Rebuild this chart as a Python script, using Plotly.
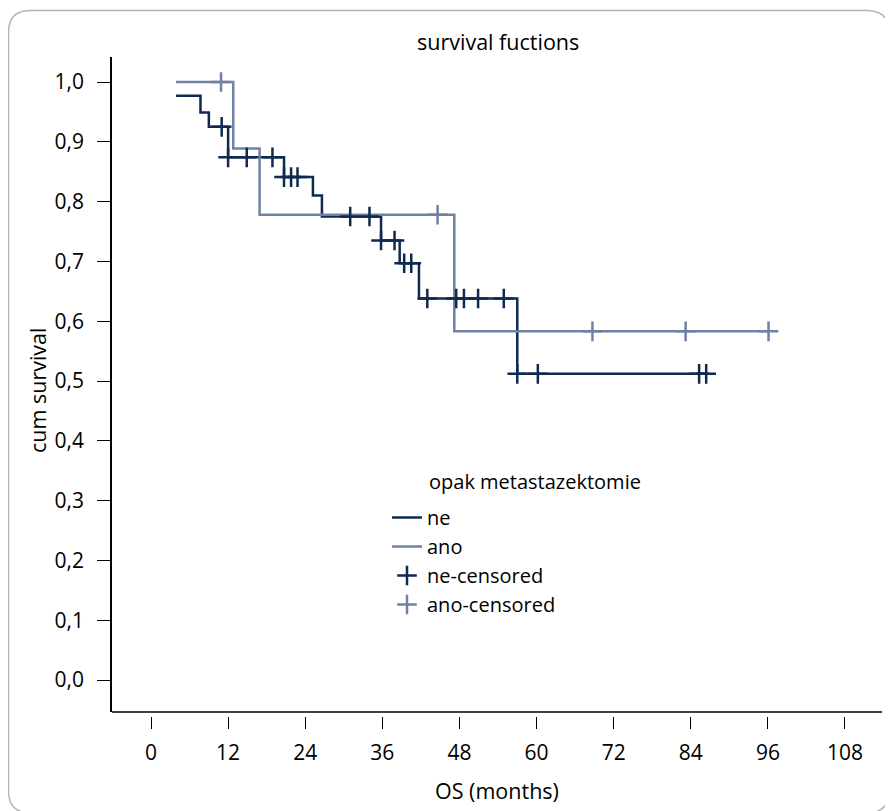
import plotly.graph_objects as go

# ---------------- data ----------------
# Kaplan-Meier step curves (time in months, cumulative survival)
ne_time = [3.9, 7.7, 9.0, 12.0, 20.7, 25.2, 26.6, 35.8, 38.7, 41.7, 57.0, 86.4]
ne_surv = [0.977, 0.949, 0.925, 0.874, 0.841, 0.810, 0.775, 0.735, 0.697, 0.638, 0.512, 0.512]
ano_time = [3.9, 12.8, 16.9, 47.2, 96.1]
ano_surv = [1.000, 0.889, 0.778, 0.583, 0.583]

# censored observations
ne_cens_time = [11.0, 12.0, 14.9, 18.9, 20.7, 21.8, 22.8, 31.0, 34.0, 35.8, 37.9,
                39.4, 40.5, 43.0, 47.5, 48.7, 50.9, 54.9, 57.0, 60.2, 85.3, 86.4]
ne_cens_surv = [0.925, 0.874, 0.874, 0.874, 0.841, 0.841, 0.841, 0.775, 0.775, 0.735, 0.735,
                0.697, 0.697, 0.638, 0.638, 0.638, 0.638, 0.638, 0.512, 0.512, 0.512, 0.512]
ano_cens_time = [10.9, 44.6, 68.7, 83.2, 96.1]
ano_cens_surv = [1.000, 0.778, 0.583, 0.583, 0.583]

x_ticks = [0, 12, 24, 36, 48, 60, 72, 84, 96, 108]
y_ticks = [0.0, 0.1, 0.2, 0.3, 0.4, 0.5, 0.6, 0.7, 0.8, 0.9, 1.0]
y_ticklabels = ["0,0", "0,1", "0,2", "0,3", "0,4", "0,5", "0,6", "0,7", "0,8", "0,9", "1,0"]

# ---------------- style / layout ----------------
DARK = "#0f2a4e"
GRAY = "#6f82a4"
FONT = "Open Sans"
FS = 20

OFF = 8  # page body margin
W, H = 893 - OFF, 811 - OFF
ML = 112 - OFF
MR = W - (882 - OFF)
MT = 57 - OFF
MB = H - (716 - OFF)
PW = W - ML - MR
PH = H - MT - MB
Y_AX_BOTTOM_PX = 712 - OFF  # axis line position (figure pixels)
ydom0 = (H - MB - Y_AX_BOTTOM_PX) / PH


def px(x):
    """reference-screenshot pixel x -> paper coordinate"""
    return (x - OFF - ML) / PW


def py(y):
    """reference-screenshot pixel y -> paper coordinate"""
    return (H - MB - (y - OFF)) / PH


fig = go.Figure()

fig.add_trace(go.Scatter(x=ne_time, y=ne_surv, mode="lines", line=dict(color=DARK, width=2.5, shape="hv"),
                         name="ne", legendgroup="a"))
fig.add_trace(go.Scatter(x=ano_time, y=ano_surv, mode="lines", line=dict(color=GRAY, width=2.5, shape="hv"),
                         name="ano", legendgroup="b"))
fig.add_trace(go.Scatter(x=ne_cens_time, y=ne_cens_surv, mode="markers",
                         marker=dict(symbol="cross-thin", size=14, line=dict(color=DARK, width=2.5), color=DARK),
                         name="ne-censored", legendgroup="c"))
fig.add_trace(go.Scatter(x=ano_cens_time, y=ano_cens_surv, mode="markers",
                         marker=dict(symbol="cross-thin", size=14, line=dict(color=GRAY, width=2.5), color=GRAY),
                         name="ano-censored", legendgroup="d"))

# rounded outer frame (reference pixel coords)
x0, y0, x1, y1, r = 8.5, 10.5, 889.0, 813.0, 22
path = (f"M {px(x0 + r)},{py(y0)} L {px(x1 - r)},{py(y0)} Q {px(x1)},{py(y0)} {px(x1)},{py(y0 + r)} "
        f"L {px(x1)},{py(y1 - r)} Q {px(x1)},{py(y1)} {px(x1 - r)},{py(y1)} "
        f"L {px(x0 + r)},{py(y1)} Q {px(x0)},{py(y1)} {px(x0)},{py(y1 - r)} "
        f"L {px(x0)},{py(y0 + r)} Q {px(x0)},{py(y0)} {px(x0 + r)},{py(y0)} Z")

shapes = [
    dict(type="path", xref="paper", yref="paper", path=path, line=dict(color="#b5b5b5", width=1.5),
         fillcolor="rgba(0,0,0,0)", layer="below"),
    dict(type="line", xref="paper", yref="paper", x0=0, x1=1, y0=ydom0, y1=ydom0,
         line=dict(color="black", width=1.5)),
]

TFS = 21.5
annotations = [
    dict(text="survival fuctions", xref="paper", yref="paper", x=px(498), y=py(41),
         showarrow=False, xanchor="center", yanchor="middle", font=dict(size=TFS, color="black")),
    dict(text="OS (months)", xref="paper", yref="paper", x=px(497), y=py(790),
         showarrow=False, xanchor="center", yanchor="middle", font=dict(size=TFS, color="black")),
    dict(text="cum survival", xref="paper", yref="paper", x=px(37), y=py(391), textangle=-90,
         showarrow=False, xanchor="center", yanchor="middle", font=dict(size=TFS, color="black")),
    dict(text="opak metastazektomie", xref="paper", yref="paper", x=px(427), y=py(482),
         showarrow=False, xanchor="left", yanchor="middle", font=dict(size=FS, color="black")),
]

fig.update_layout(
    width=W, height=H,
    margin=dict(l=ML, r=MR, t=MT, b=MB, pad=0),
    paper_bgcolor="white", plot_bgcolor="white",
    font=dict(family=FONT, size=FS, color="black"),
    showlegend=True,
    legend=dict(x=px(387), y=py(498), xanchor="left", yanchor="top", bgcolor="rgba(0,0,0,0)",
                traceorder="grouped", tracegroupgap=0, itemwidth=30, font=dict(size=FS),
                borderwidth=0),
    shapes=shapes,
    annotations=annotations,
    xaxis=dict(range=[-6.07, 113.76], tickvals=x_ticks, ticktext=[str(v) for v in x_ticks],
               ticks="outside", ticklen=12, tickwidth=1.3, tickcolor="black",
               tickfont=dict(size=21),
               showline=False, showgrid=False, zeroline=False, anchor="free", position=0,
               ticklabelstandoff=6, fixedrange=True),
    yaxis=dict(range=[-0.0535, 1.0418], domain=[ydom0, 1], tickvals=y_ticks, ticktext=y_ticklabels,
               ticks="outside", ticklen=13, tickwidth=1.3, tickcolor="black",
               tickfont=dict(size=21),
               showline=True, linecolor="black", linewidth=1.5,
               showgrid=False, zeroline=False, ticklabelstandoff=9, fixedrange=True),
)

fig.write_html("out.html")
